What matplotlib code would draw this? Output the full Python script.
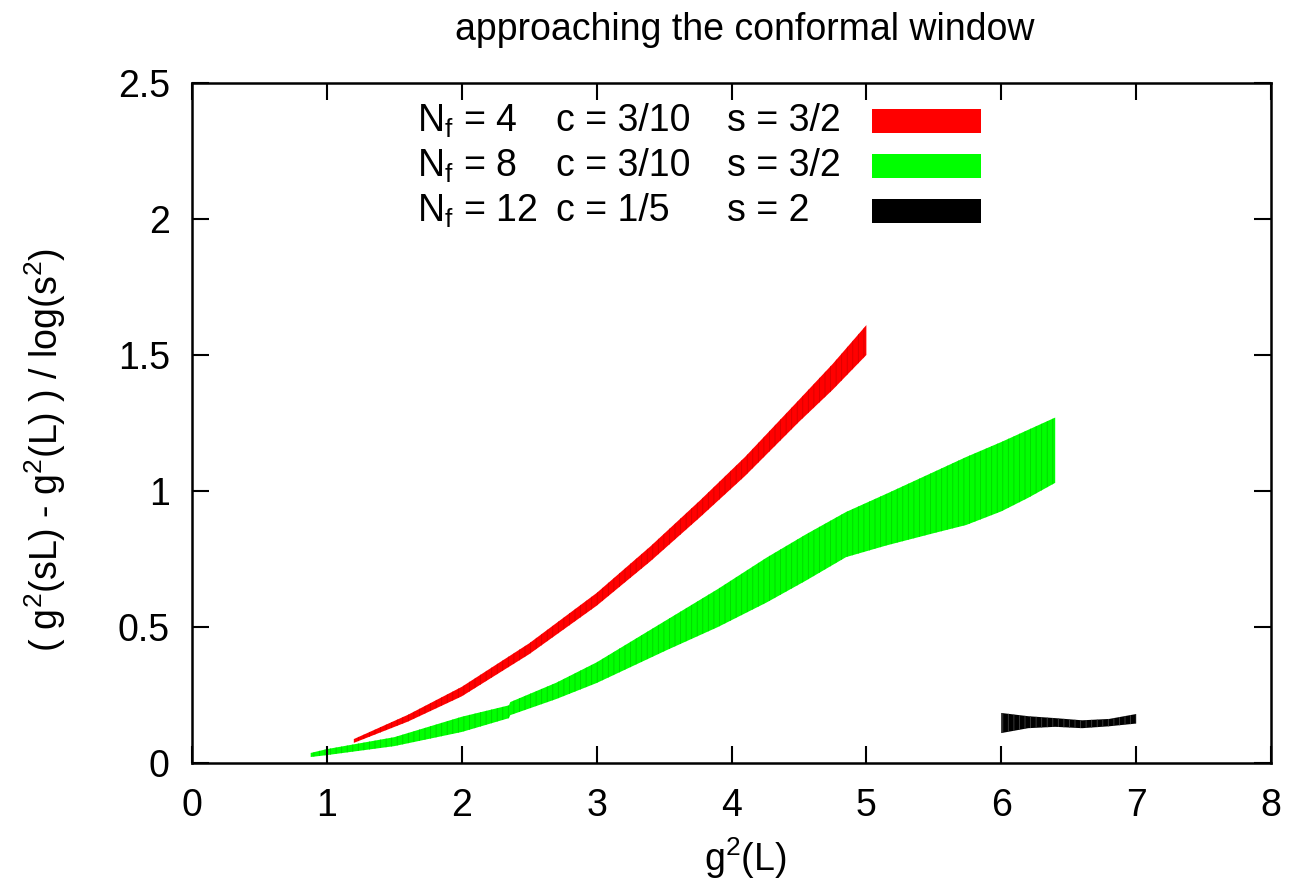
import numpy as np
import matplotlib
matplotlib.use("Agg")
import matplotlib.pyplot as plt
from matplotlib.patches import Rectangle

plt.rcParams['font.family'] = ['Liberation Sans', 'DejaVu Sans']
plt.rcParams['mathtext.fontset'] = 'custom'
plt.rcParams['mathtext.rm'] = 'Liberation Sans'
plt.rcParams['mathtext.it'] = 'Liberation Sans'
plt.rcParams['hatch.linewidth'] = 0.6

# Nf = 4 band
x4 = [1.2, 1.6, 2.0, 2.5, 3.0, 3.4, 3.77, 4.1, 4.5, 4.75, 5.0]
lo4 = [0.074, 0.152, 0.245, 0.40, 0.578, 0.742, 0.905, 1.055, 1.254, 1.372, 1.50]
hi4 = [0.088, 0.177, 0.280, 0.44, 0.625, 0.797, 0.967, 1.125, 1.335, 1.467, 1.61]

# Nf = 8 band
x8 = [0.88, 1.0, 1.5, 2.0, 2.35, 2.36, 2.7, 3.0, 3.52, 3.9, 4.26, 4.55, 4.85, 5.15, 5.5, 5.74, 6.0, 6.2, 6.4]
lo8 = [0.022, 0.029, 0.062, 0.114, 0.165, 0.176, 0.235, 0.294, 0.415, 0.50, 0.59, 0.67, 0.757, 0.80, 0.845, 0.875, 0.925, 0.975, 1.03]
hi8 = [0.037, 0.051, 0.095, 0.170, 0.212, 0.224, 0.295, 0.37, 0.526, 0.64, 0.755, 0.84, 0.923, 0.99, 1.07, 1.125, 1.18, 1.225, 1.27]

# Nf = 12 band
x12 = [6.0, 6.2, 6.4, 6.6, 6.8, 7.0]
lo12 = [0.11, 0.128, 0.133, 0.128, 0.135, 0.145]
hi12 = [0.184, 0.172, 0.165, 0.157, 0.162, 0.18]

rows = [("$\\mathregular{N_f}$ = 4", "c = 3/10", "s = 3/2", "#ff0000"),
        ("$\\mathregular{N_f}$ = 8", "c = 3/10", "s = 3/2", "#00ff00"),
        ("$\\mathregular{N_f}$ = 12", "c = 1/5", "s = 2", "#000000")]

FS = 27
W, H = 1297, 886
fig = plt.figure(figsize=(W / 100, H / 100), dpi=100)
ax = fig.add_axes([192 / W, 1 - 763 / H, (1271 - 192) / W, (763 - 83) / H])

ax.fill_between(x4, lo4, hi4, facecolor="#ff0000", edgecolor="#d80000", hatch="|||", lw=0)
ax.fill_between(x8, lo8, hi8, facecolor="#00ff00", edgecolor="#00d400", hatch="|||", lw=0)
ax.fill_between(x12, lo12, hi12, facecolor="#000000", edgecolor="#444444", hatch="|||", lw=0)

ax.set_xlim(0, 8)
ax.set_ylim(0, 2.5)
ax.set_xticks(range(0, 9))
ax.set_yticks([0, 0.5, 1, 1.5, 2, 2.5])
ax.set_yticklabels(["0", "0.5", "1", "1.5", "2", "2.5"])
ax.tick_params(direction='in', length=12, width=1.5, labelsize=FS,
               top=True, right=True)
ax.tick_params(axis='y', pad=16)
ax.tick_params(axis='x', pad=18)
for sp in ax.spines.values():
    sp.set_linewidth(1.8)

fig.text(745 / W, 1 - 30 / H, "approaching the conformal window",
         ha='center', va='center', fontsize=FS)
fig.text(745 / W, 1 - 858 / H, "$\\mathregular{g^2(L)}$",
         ha='center', va='center', fontsize=FS)
fig.text(45 / W, 1 - 450 / H,
         "( $\\mathregular{g^2(sL)}$ - $\\mathregular{g^2(L)}$ ) / $\\mathregular{log(s^2)}$",
         ha='center', va='center', rotation=90, fontsize=FS)

# manual key, gnuplot style
ys = [121, 166, 211]
for (a, b, c, col), yp in zip(rows, ys):
    fy = 1 - yp / H
    fig.text(417 / W, fy, a, ha='left', va='center', fontsize=FS)
    fig.text(556 / W, fy, b, ha='left', va='center', fontsize=FS)
    fig.text(727 / W, fy, c, ha='left', va='center', fontsize=FS)
    fig.patches.append(Rectangle((872 / W, 1 - (yp + 12) / H), 109 / W, 24 / H,
                                 transform=fig.transFigure, color=col, lw=0))

fig.savefig("out.png", dpi=100)
